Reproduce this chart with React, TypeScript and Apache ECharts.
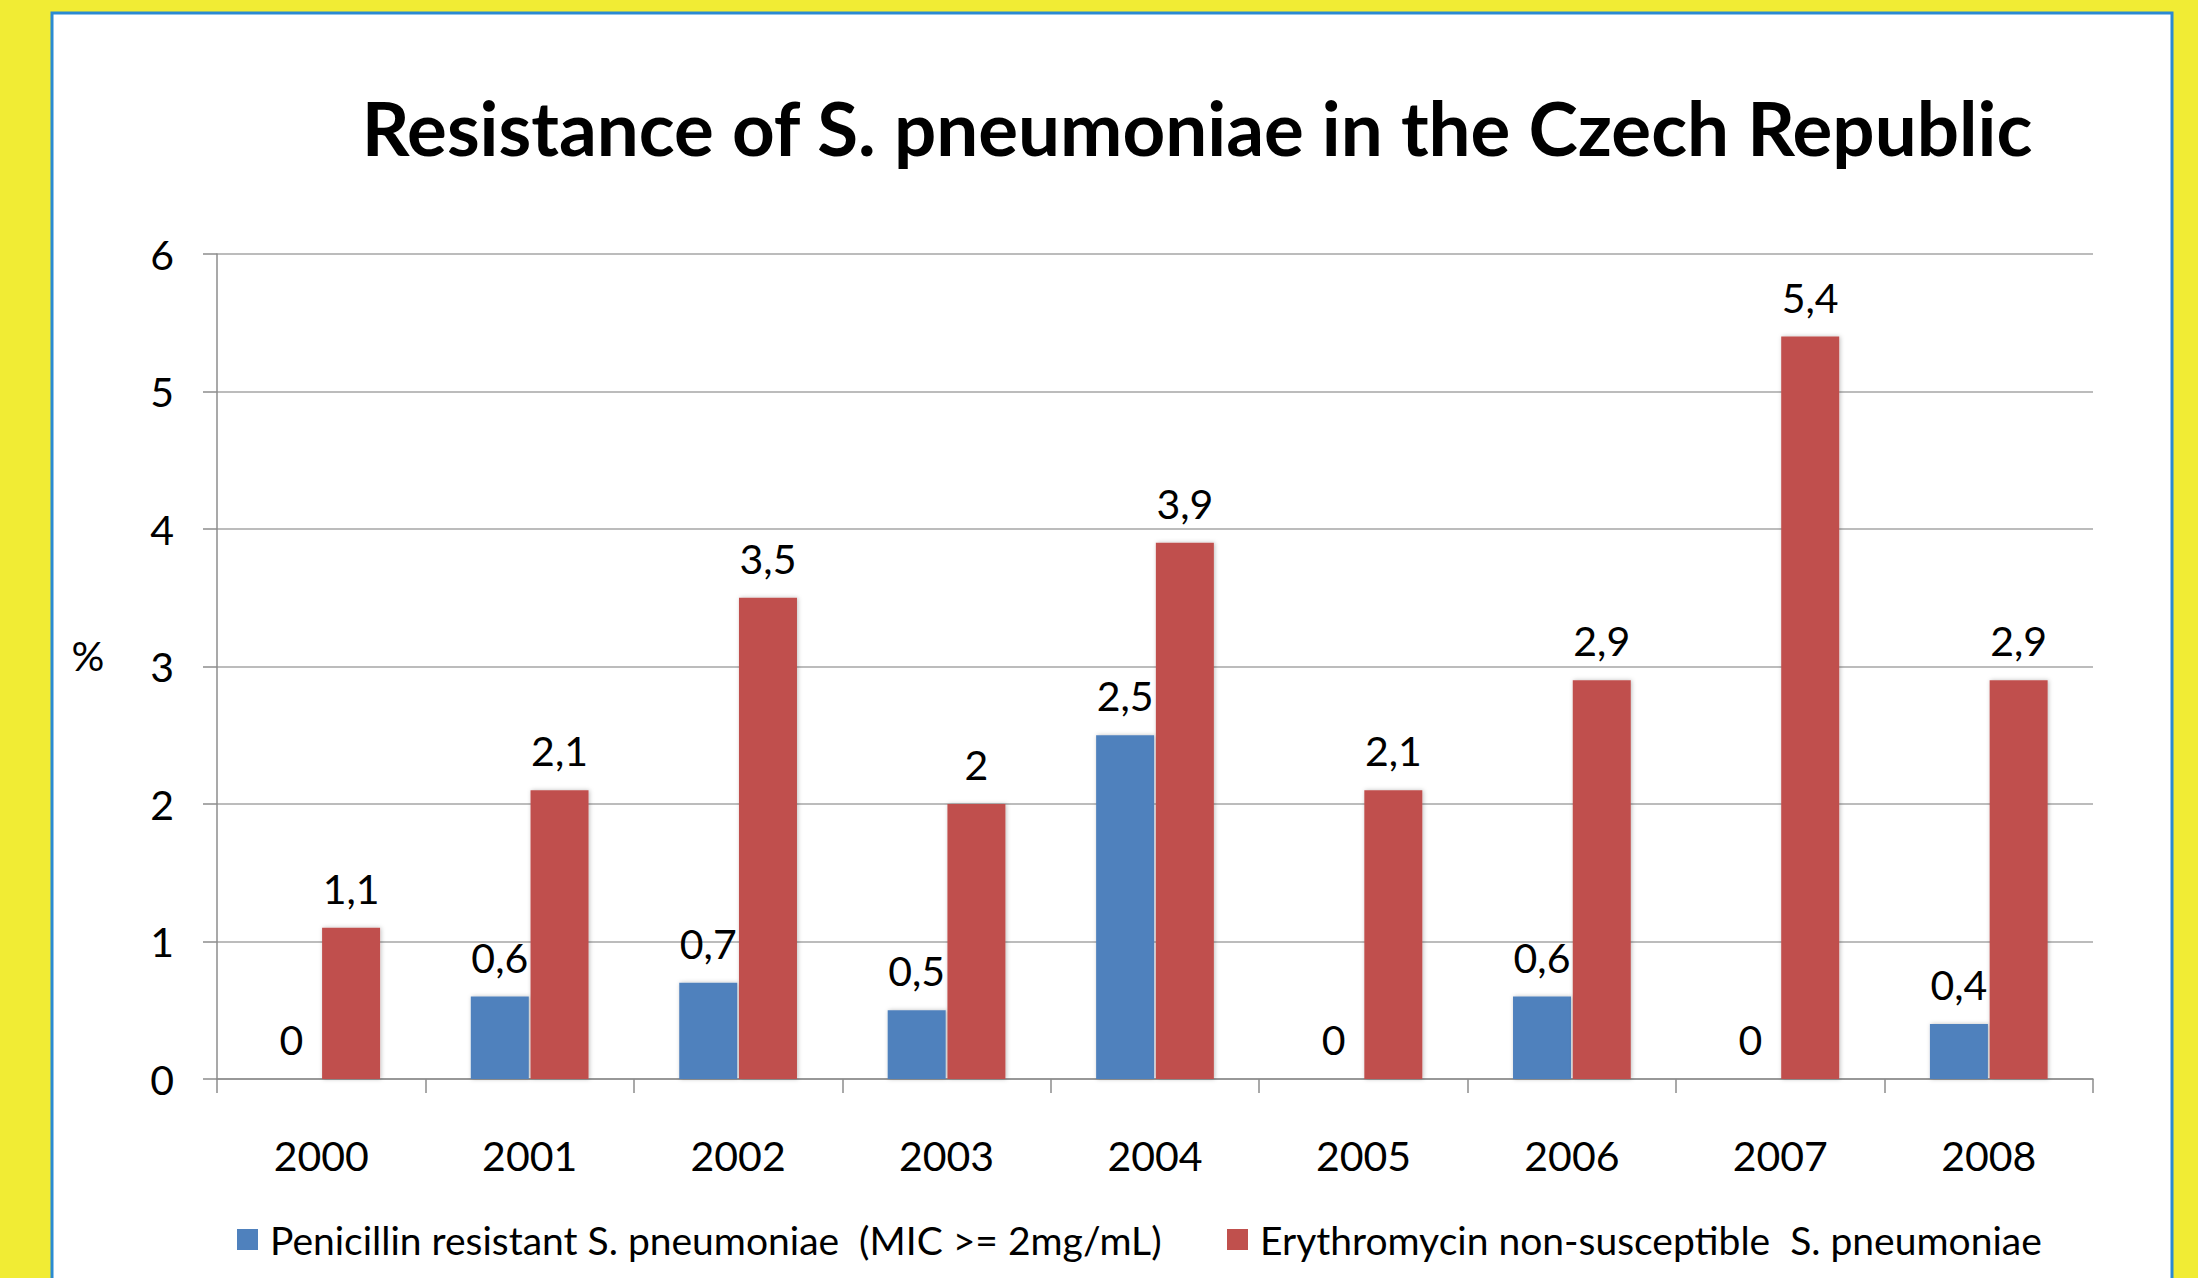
import React, { useEffect, useRef } from "react";
import * as echarts from "echarts";

const years = ["2000", "2001", "2002", "2003", "2004", "2005", "2006", "2007", "2008"];
const penicillin = [0, 0.6, 0.7, 0.5, 2.5, 0, 0.6, 0, 0.4];
const erythromycin = [1.1, 2.1, 3.5, 2.0, 3.9, 2.1, 2.9, 5.4, 2.9];
const seriesNames = [
  "Penicillin resistant S. pneumoniae  (MIC >= 2mg/mL)",
  "Erythromycin non-susceptible  S. pneumoniae",
];
const titleText = "Resistance of S. pneumoniae in the Czech Republic";
const yAxisName = "%";

const FONT = "Lato";

export default function App() {
  const ref = useRef<HTMLDivElement>(null);
  useEffect(() => {
    if (!ref.current) return;
    const chart = echarts.init(ref.current, undefined, { renderer: "svg" });
    const fmt = (p: any) => String(p.value).replace(".", ",");
    const barStyle = (color: string) => ({
      color,
      shadowBlur: 4,
      shadowColor: "rgba(0,0,0,0.25)",
      shadowOffsetX: 1,
      shadowOffsetY: 0,
    });
    const legendText = {
      fontFamily: FONT,
      fontSize: 39,
      lineHeight: 41,
      color: "#000",
      padding: [0, 0, 0, 7],
    };
    chart.setOption({
      animation: false,
      backgroundColor: "#F1EC34",
      textStyle: { fontFamily: FONT },
      graphic: [
        {
          type: "rect",
          z: -10,
          shape: { x: 52, y: 13, width: 2120, height: 1300 },
          style: { fill: "#ffffff", stroke: "#2B8AD2", lineWidth: 3 },
        },
        {
          type: "text",
          x: 1197,
          y: 127,
          style: {
            text: titleText,
            fontFamily: FONT,
            fontWeight: "bold",
            fontSize: 74.5,
            fill: "#000",
            align: "center",
            verticalAlign: "middle",
          },
        },
        {
          type: "text",
          x: 88,
          y: 655,
          style: {
            text: yAxisName,
            fontFamily: FONT,
            fontSize: 41,
            fill: "#000",
            align: "center",
            verticalAlign: "middle",
          },
        },
      ],
      legend: [
        {
          data: [seriesNames[0]],
          left: 232,
          top: 1214,
          itemWidth: 21,
          itemHeight: 21,
          icon: "rect",
          textStyle: legendText,
        },
        {
          data: [seriesNames[1]],
          left: 1222,
          top: 1214,
          itemWidth: 21,
          itemHeight: 21,
          icon: "rect",
          textStyle: legendText,
        },
      ],
      grid: { left: 217, right: 105, top: 254, bottom: 199, containLabel: false },
      xAxis: {
        type: "category",
        data: years,
        axisLine: { show: true, lineStyle: { color: "#8C8C8C", width: 1.5 } },
        axisTick: { show: true, length: 14, lineStyle: { color: "#8C8C8C", width: 1.5 } },
        axisLabel: { color: "#000", fontSize: 41, fontFamily: FONT, margin: 56 },
        splitLine: { show: false },
      },
      yAxis: {
        type: "value",
        min: 0,
        max: 6,
        interval: 1,
        axisLine: { show: true, lineStyle: { color: "#8C8C8C", width: 1.5 } },
        axisTick: { show: true, length: 14, lineStyle: { color: "#8C8C8C", width: 1.5 } },
        axisLabel: { color: "#000", fontSize: 41, fontFamily: FONT, margin: 43 },
        splitLine: { show: true, lineStyle: { color: "#A6A6A6", width: 1.5 } },
      },
      series: [
        {
          name: seriesNames[0],
          type: "bar",
          data: penicillin,
          barWidth: 58,
          barGap: "3%",
          itemStyle: barStyle("#4F81BD"),
          label: {
            show: true,
            position: "top",
            distance: 19,
            color: "#000",
            fontSize: 41,
            fontFamily: FONT,
            formatter: fmt,
          },
        },
        {
          name: seriesNames[1],
          type: "bar",
          data: erythromycin,
          barWidth: 58,
          barGap: "3%",
          itemStyle: barStyle("#C0504D"),
          label: {
            show: true,
            position: "top",
            distance: 19,
            color: "#000",
            fontSize: 41,
            fontFamily: FONT,
            formatter: fmt,
          },
        },
      ],
    });
    return () => chart.dispose();
  }, []);
  return (
    <div
      ref={ref}
      style={{ position: "fixed", left: 0, top: 0, width: 2198, height: 1278 }}
    />
  );
}
